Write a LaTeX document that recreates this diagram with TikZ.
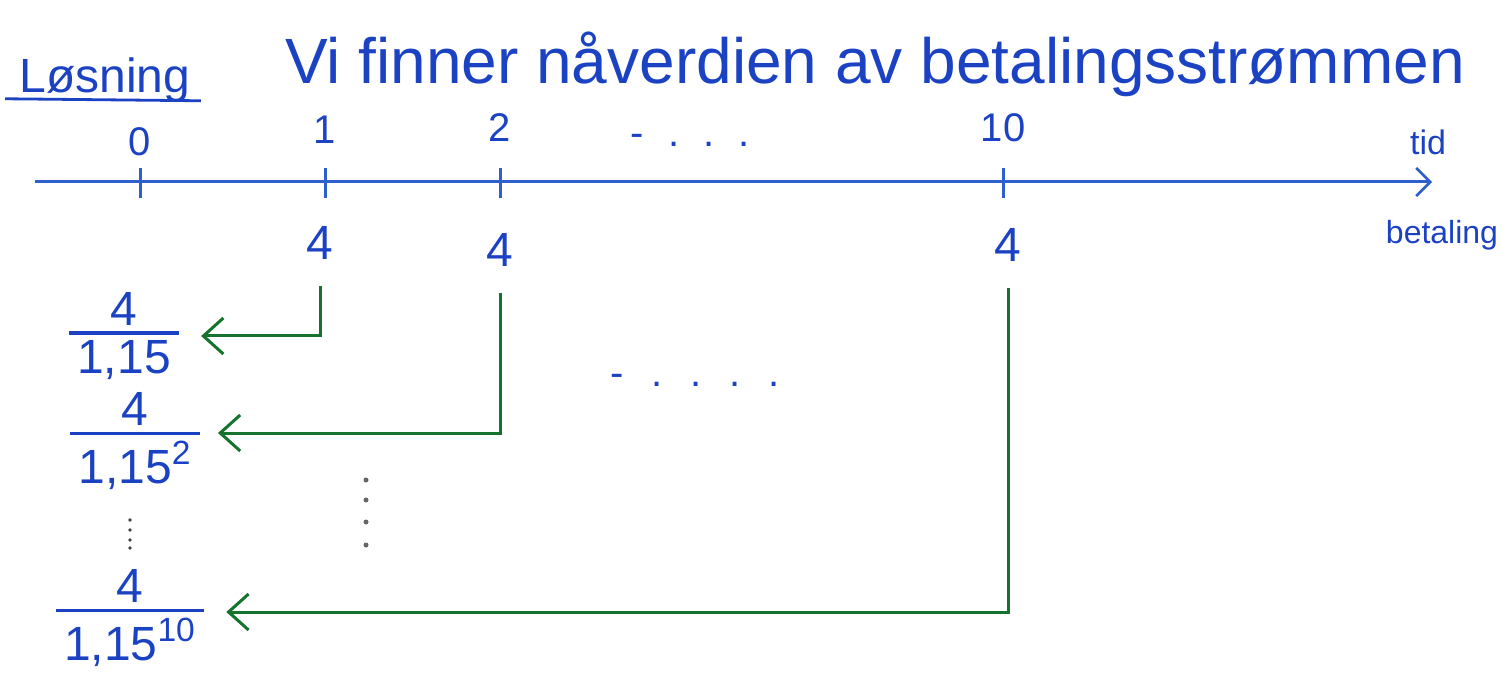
\documentclass[tikz,border=0pt]{standalone}
\usepackage{fontspec}
\setmainfont{Liberation Sans}
\usetikzlibrary{arrows.meta}
\definecolor{ink}{RGB}{28,66,196}
\definecolor{axisblue}{RGB}{45,95,205}
\definecolor{pen}{RGB}{22,115,45}
\newcommand\myfrac[2]{\setbox0\hbox{#2}\dimen0=\dimexpr\wd0+8pt\relax\vbox{\hbox to\dimen0{\hss#1\hss}\kern3pt\hrule height1.8pt width\dimen0\kern3pt\hbox to\dimen0{\hss\box0\hss}}}
\tikzset{
  lbl/.style={text=ink, inner sep=1pt, font=\fontsize{20}{24}\selectfont},
  big/.style={text=ink, inner sep=1pt, font=\fontsize{32}{38}\selectfont},
  amt/.style={text=ink, inner sep=1pt, font=\fontsize{24}{28}\selectfont},
  fracnode/.style={text=ink, inner sep=1pt, font=\fontsize{24}{28}\selectfont},
  axisline/.style={draw=axisblue, line width=1.5pt, -{Straight Barb[length=7pt,width=14pt,line width=1.3pt]}},
  tick/.style={draw=axisblue, line width=1.5pt},
  conn/.style={draw=pen, line width=1.5pt, -{Straight Barb[length=10pt,width=18pt,line width=1.5pt]}},
  dotmark/.style={fill=black!75, draw=none, circle, inner sep=0pt, minimum size=2.5pt},
}
\begin{document}
\begin{tikzpicture}[x=0.5pt,y=-0.5pt]
\useasboundingbox (0,0) rectangle (1503,678);
% heading
\node[amt] (los) at (105,80) {Løsning};
\draw[draw=ink, line width=1.4pt] ([xshift=-6pt,yshift=3pt]los.south west) -- ([xshift=4pt,yshift=2pt]los.south east);
\node[big] (title) at (875,64) {Vi finner nåverdien av betalingsstrømmen};
% axis
\coordinate (a0) at (35,182);
\coordinate (a1) at (1432,182);
\draw[axisline] (a0) -- (a1);
\node[lbl, font=\fontsize{17}{20}\selectfont] (tid) at (1428,142) {tid};
\node[lbl, font=\fontsize{16}{20}\selectfont] (bet) at (1442,235) {betaling};
% tick marks
\coordinate (k0) at (140,182);
\coordinate (k1) at (325,182);
\coordinate (k2) at (500,182);
\coordinate (k10) at (1003,182);
\foreach \k in {k0,k1,k2,k10} \draw[tick] ([yshift=7pt]\k) -- ([yshift=-8pt]\k);
\node[lbl] (t0) at (140,142) {0};
\node[lbl] (t1) at (325,130) {1};
\node[lbl] (t2) at (500,128) {2};
\node[lbl] (t10) at (1003,128) {10};
\node[lbl] (hd) at (690,140) {-\hspace{12pt}.\hspace{12pt}.\hspace{12pt}.};
% payments
\node[amt] (p1) at (320,243) {4};
\node[amt] (p2) at (500,250) {4};
\node[amt] (p10) at (1008,245) {4};
% present values
\node[fracnode] (f1) at (124,336) {\myfrac{4}{1,15}};
\node[fracnode] (f2) at (135,441) {\myfrac{4}{1,15\textsuperscript{2}}};
\node[fracnode] (f10) at (130,618) {\myfrac{4}{1,15\textsuperscript{10}}};
% dots
\node[lbl] (md) at (695,380) {-\hspace{14pt}.\hspace{14pt}.\hspace{14pt}.\hspace{14pt}.};
\foreach \y in {520,530,540,548} \node[dotmark, minimum size=1.8pt] at (130,\y) {};
\foreach \y in {480,500,522,545} \node[dotmark, fill=black!60] at (366,\y) {};
% connectors
\draw[conn, shorten <=12pt, shorten >=10pt] (p1.south) |- (f1.east);
\draw[conn, shorten <=12pt, shorten >=8pt] (p2.south) |- ([yshift=4pt]f2.east);
\draw[conn, shorten <=12pt, shorten >=10pt] (p10.south) |- ([yshift=3pt]f10.east);
\end{tikzpicture}
\end{document}
